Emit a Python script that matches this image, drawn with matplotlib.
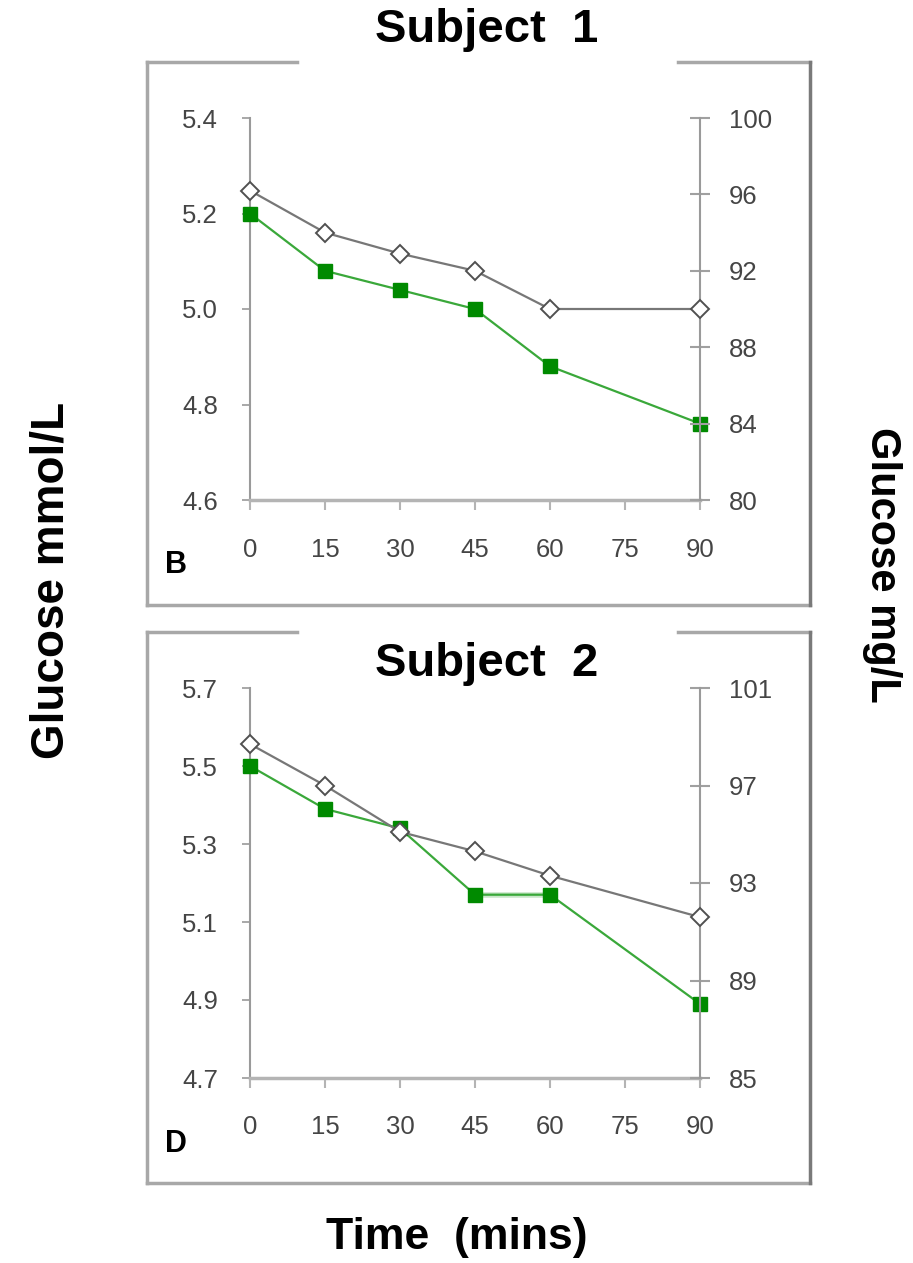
"""Glucose time course for two subjects, mmol/L (left) and mg/L (right)."""

import matplotlib

matplotlib.use("Agg")
import matplotlib.pyplot as plt
from matplotlib.lines import Line2D

plt.rcParams["font.family"] = ["Liberation Sans", "DejaVu Sans"]

# Data
time_ticks = [0, 15, 30, 45, 60, 75, 90]
time_points = [0, 15, 30, 45, 60, 90]

s1_mmol = [5.20, 5.08, 5.04, 5.00, 4.88, 4.76]
s1_mg = [96.2, 94.0, 92.9, 92.0, 90.0, 90.0]
s1_left_ticks = [4.6, 4.8, 5.0, 5.2, 5.4]
s1_right_ticks = [80, 84, 88, 92, 96, 100]

s2_mmol = [5.50, 5.39, 5.34, 5.17, 5.17, 4.89]
s2_mg = [98.7, 97.0, 95.1, 94.3, 93.3, 91.6]
s2_left_ticks = [4.7, 4.9, 5.1, 5.3, 5.5, 5.7]
s2_right_ticks = [85, 89, 93, 97, 101]

GREEN_LINE = "#3aa83a"
GREEN_MARK = "#008a00"
GRAY_LINE = "#777777"
AXIS_GRAY = "#9a9a9a"
TICK_TEXT = "#454545"

W, H = 913, 1263


def fx(px):
    return px / W


def fy(py):
    return 1 - py / H


def draw_frame(fig, top, bottom, left=147, right=810, gap=(297, 678)):
    """Gray box around a panel, with an opening in the top edge."""
    kw = dict(transform=fig.transFigure, color="#a8a8a8", lw=2.5)
    segs = [
        ([left, gap[0]], [top, top]),
        ([gap[1], right], [top, top]),
        ([left, left], [top, bottom]),
        ([left, right], [bottom, bottom]),
    ]
    for xs, ys in segs:
        fig.add_artist(Line2D([fx(x) for x in xs], [fy(y) for y in ys], **kw))
    fig.add_artist(
        Line2D([fx(right), fx(right)], [fy(top), fy(bottom)],
               transform=fig.transFigure, color="#7a7a7a", lw=2.5)
    )


def make_panel(fig, rect, mmol, mg, left_ticks, right_ticks, fmt, letter, flat_seg=None):
    ax = fig.add_axes(rect)
    ax2 = ax.twinx()

    ax.plot(time_points, mmol, color=GREEN_LINE, lw=1.6, marker="s",
            markersize=9.5, markerfacecolor=GREEN_MARK, markeredgecolor=GREEN_MARK,
            zorder=4, clip_on=False)
    if flat_seg is not None:
        ax.plot(time_points[flat_seg:flat_seg + 2], mmol[flat_seg:flat_seg + 2],
                color="#c8e6c8", lw=4, zorder=3)
    ax2.plot(time_points, mg, color=GRAY_LINE, lw=1.6, marker="D",
             markersize=9, markerfacecolor="white", markeredgecolor="#505050",
             markeredgewidth=1.4, zorder=3, clip_on=False)

    ax.set_xlim(time_ticks[0], time_ticks[-1])
    ax.set_ylim(left_ticks[0], left_ticks[-1])
    ax2.set_ylim(right_ticks[0], right_ticks[-1])
    ax.set_xticks(time_ticks)
    ax.set_yticks(left_ticks)
    ax.set_yticklabels([fmt.format(v) for v in left_ticks])
    ax2.set_yticks(right_ticks)

    for a in (ax, ax2):
        a.patch.set_visible(False)
        a.spines["top"].set_visible(False)
    ax.spines["right"].set_visible(False)
    ax2.spines["left"].set_visible(False)
    ax2.spines["bottom"].set_visible(False)
    ax.spines["left"].set_color(AXIS_GRAY)
    ax.spines["left"].set_linewidth(1.5)
    ax.spines["bottom"].set_color("#b4b4b4")
    ax.spines["bottom"].set_linewidth(2.5)
    ax2.spines["right"].set_color(AXIS_GRAY)
    ax2.spines["right"].set_linewidth(1.5)

    ax.tick_params(axis="x", direction="out", length=7, width=1.5, color="#b4b4b4",
                   pad=20, labelsize=18.5, labelcolor=TICK_TEXT)
    ax.tick_params(axis="y", direction="out", length=6, width=1.2, color=AXIS_GRAY,
                   pad=17, labelsize=18.5, labelcolor=TICK_TEXT)
    ax2.tick_params(axis="y", direction="inout", length=14, width=1.5, color="#a0a0a0",
                    pad=14, labelsize=18.5, labelcolor=TICK_TEXT)

    ax.text(-0.19, -0.17, letter, transform=ax.transAxes, fontsize=22,
            fontweight="bold", ha="left", va="center")
    return ax


fig = plt.figure(figsize=(W / 100, H / 100), dpi=100)

draw_frame(fig, 62, 605)
draw_frame(fig, 632, 1183)

make_panel(fig, [fx(250), fy(500), fx(700) - fx(250), fy(118) - fy(500)],
           s1_mmol, s1_mg, s1_left_ticks, s1_right_ticks, "{:.1f}", "B")
make_panel(fig, [fx(250), fy(1078), fx(700) - fx(250), fy(688) - fy(1078)],
           s2_mmol, s2_mg, s2_left_ticks, s2_right_ticks, "{:.1f}", "D", flat_seg=3)

fig.text(fx(487), fy(30), "Subject  1", fontsize=34, fontweight="bold",
         ha="center", va="center")
fig.text(fx(487), fy(664), "Subject  2", fontsize=34, fontweight="bold",
         ha="center", va="center")
fig.text(fx(52), fy(580), "Glucose mmol/L", fontsize=33, fontweight="bold",
         rotation=90, ha="center", va="center")
fig.text(fx(882), fy(565), "Glucose mg/L", fontsize=30, fontweight="bold",
         rotation=270, ha="center", va="center")
fig.text(fx(457), fy(1238), "Time  (mins)", fontsize=32, fontweight="bold",
         ha="center", va="center")

plt.savefig("out.png", dpi=100)
plt.close()
